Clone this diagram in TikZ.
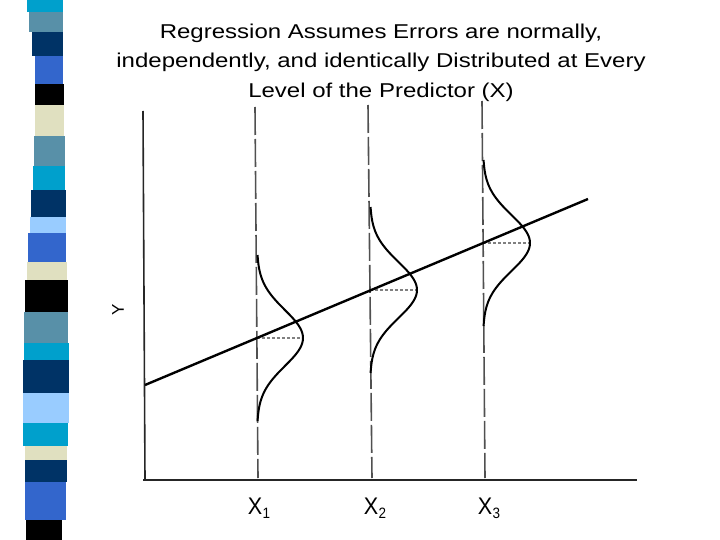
\documentclass[tikz,border=0pt]{standalone}
\usepackage{fontspec}
\setmainfont{Liberation Sans}
\newfontfamily\titlefont[FakeStretch=1.2]{Liberation Sans}
\newfontfamily\labelfont[FakeStretch=0.9]{Liberation Sans}
\usepackage{xcolor}
\definecolor{stcyan}{RGB}{0,160,204}
\definecolor{ststeel}{RGB}{88,144,168}
\definecolor{stnavy}{RGB}{0,51,102}
\definecolor{stroyal}{RGB}{51,102,204}
\definecolor{stbeige}{RGB}{224,224,192}
\definecolor{stlight}{RGB}{153,204,255}
\definecolor{plotgray}{RGB}{80,80,80}
\usetikzlibrary{positioning,calc}

\newcommand{\levelsub}[1]{\hspace{0.5pt}\raisebox{-4pt}{\fontsize{15}{17}\selectfont #1}}

\tikzset{
  axisline/.style={line width=1.6pt,black!85},
  levelline/.style={line width=1.6pt,plotgray,dash pattern=on 28pt off 4pt},
  meanline/.style={line width=1.6pt,gray,dash pattern=on 3pt off 2pt},
  bellcurve/.style={line width=2pt,black},
  fitline/.style={line width=2.4pt,black},
  xlabel/.style={font=\labelfont\fontsize{24}{28}\selectfont,anchor=base,inner sep=0pt}
}

\begin{document}
\begin{tikzpicture}[x=1pt,y=-1pt]
  \useasboundingbox (0,0) rectangle (720,540);

  %% Striped side bar
  \foreach \t/\b/\l/\r/\c in {0/12/27/63/stcyan, 12/32/29/63/ststeel,
      32/56/32/63/stnavy, 56/84/35/63/stroyal, 84/105/35/64/black,
      105/136/35/64/stbeige, 136/166/34/65/ststeel, 166/190/33/65/stcyan,
      190/217/31/66/stnavy, 217/233/30/66/stlight, 233/262/28/66/stroyal,
      262/280/27/67/stbeige, 280/312/25/68/black, 312/343/24/68/ststeel,
      343/360/24/69/stcyan, 360/393/23/69/stnavy, 393/423/23/69/stlight,
      423/446/23/68/stcyan, 446/460/25/67/stbeige, 460/482/25/67/stnavy,
      482/520/25/66/stroyal, 520/540/26/62/black}
    \fill[\c] (\l,\t) rectangle (\r,\b);

  %% Title
  \node[anchor=north,align=center,inner sep=0pt,
        font=\titlefont\fontsize{20}{29.5}\selectfont] (title) at (381,23.5)
        {Regression Assumes Errors are normally,\\
         independently, and identically Distributed at Every\\
         Level of the Predictor (X)};

  %% Axes
  \coordinate (ytop) at (143,111);
  \coordinate (origin) at (145,480);
  \coordinate (xend) at (637,480);
  \draw[axisline] (ytop) -- (origin);
  \draw[axisline] ($(origin)+(-2,0)$) -- (xend);
  \node[font=\fontsize{17}{19}\selectfont,rotate=90,inner sep=0pt] (ylabel) at (118,310) {Y};

  %% Levels of the predictor
  \foreach \n/\xt/\yt/\xb/\lab in {1/255/107/258/259, 2/368/105/372/375, 3/482/101/485/489}{
    \coordinate (top\n) at (\xt,\yt);
    \coordinate (bot\n) at (\xb,478);
    \draw[levelline] (top\n) -- (bot\n);
    \node[xlabel] (x\n) at (\lab,514) {X\levelsub{\n}};
  }

  %% Error distributions
  \foreach \n/\base/\mu/\amp in {1/257/338/46, 2/370/290/47, 3/483/243/47}{
    \coordinate (mean\n) at (\base,\mu);
    \coordinate (peak\n) at (\base+\amp,\mu);
    \draw[meanline] (mean\n) -- (peak\n);
    \draw[bellcurve] plot[domain=-83:83,samples=70,smooth]
      ({\base+\amp*exp(-(\x)^2/1568)},{\mu+\x});
  }

  %% Regression line
  \coordinate (fitstart) at (145,385);
  \coordinate (fitend) at (588,199);
  \draw[fitline] (fitstart) -- (fitend);
\end{tikzpicture}
\end{document}
